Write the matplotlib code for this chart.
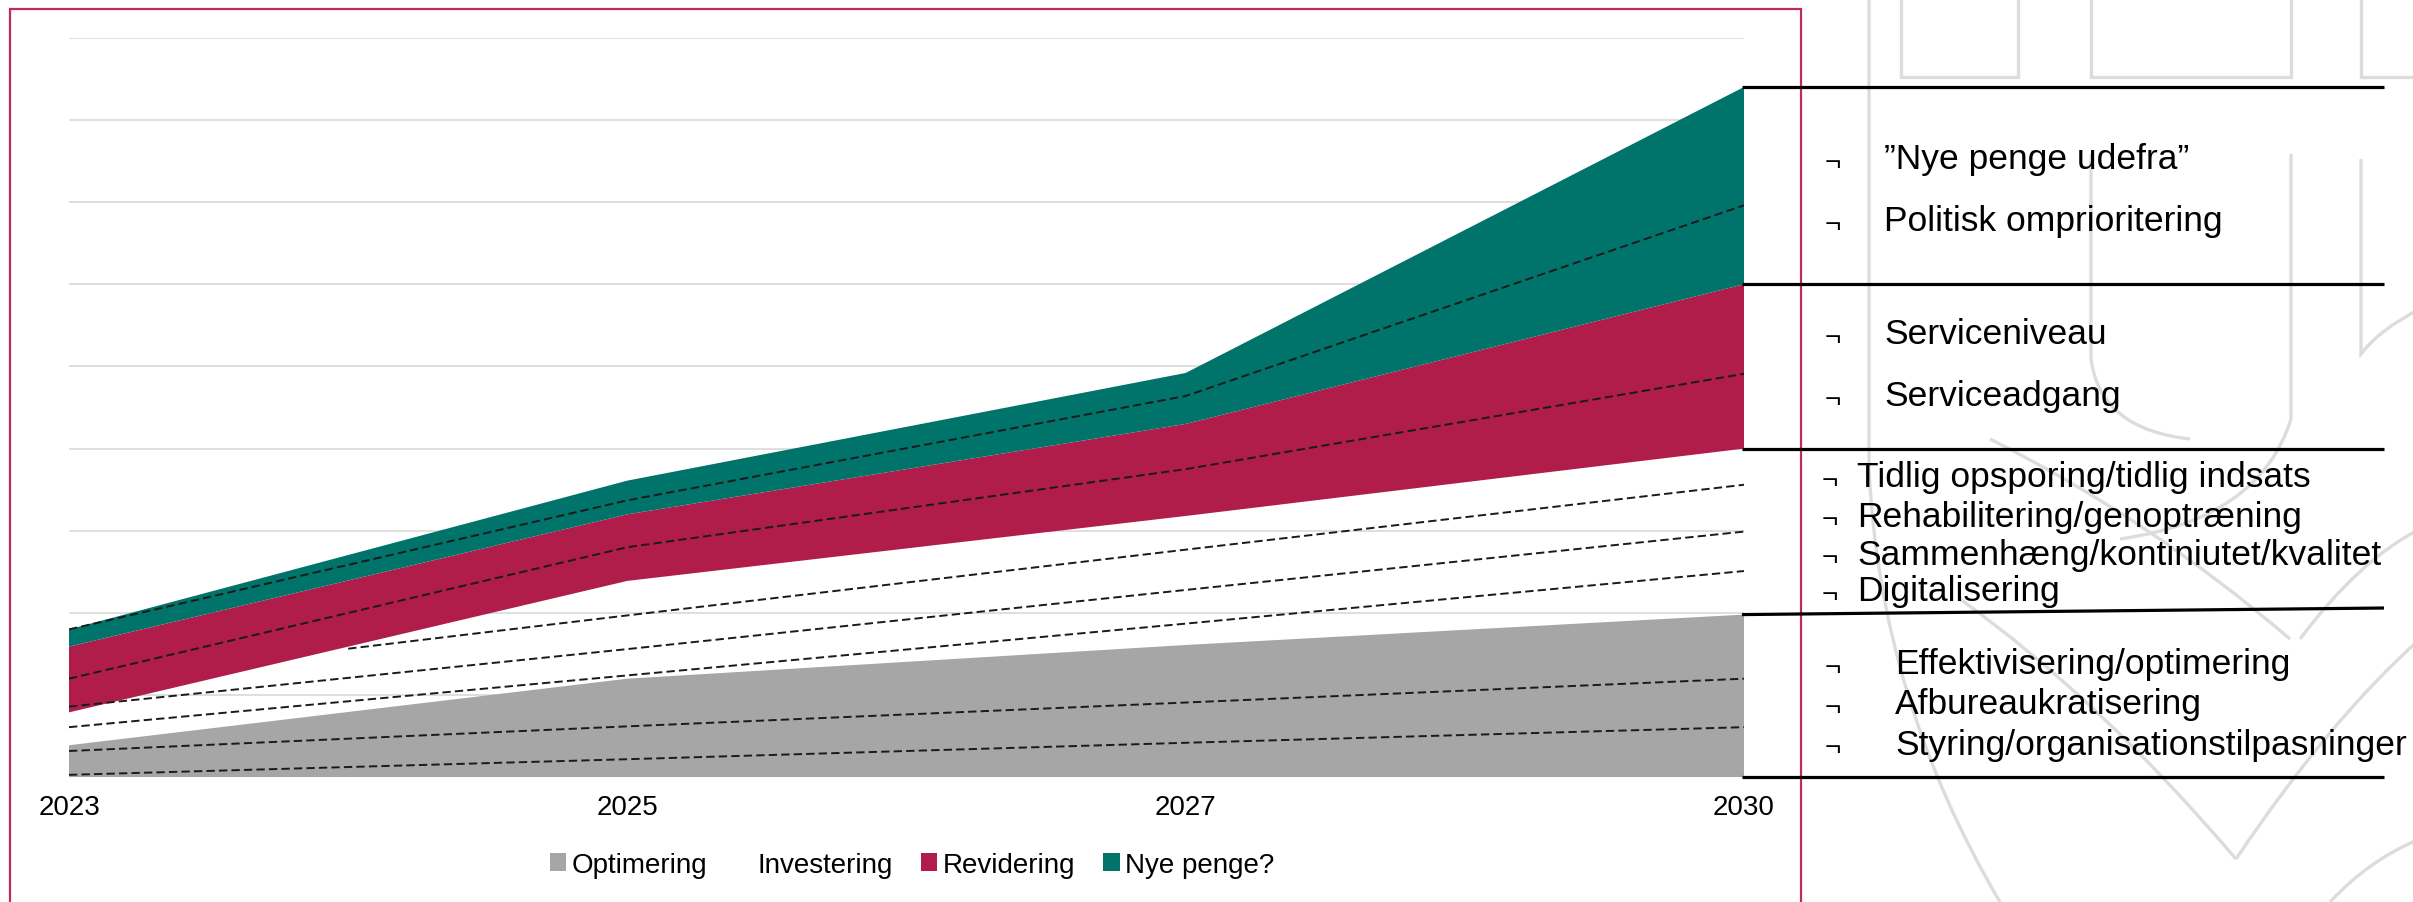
import numpy as np
import matplotlib
matplotlib.use("Agg")
import matplotlib.pyplot as plt
from matplotlib.patches import Rectangle, PathPatch
from matplotlib.path import Path
from matplotlib.lines import Line2D
import matplotlib.transforms as mtransforms

plt.rcParams['font.family'] = ['Liberation Sans', 'DejaVu Sans']
plt.rcParams['lines.scale_dashes'] = False

# ---------------- data ----------------
categories = ['2023', '2025', '2027', '2030']
optimering = [0.39, 1.20, 1.61, 1.98]
investering = [0.40, 1.19, 1.57, 2.02]
revidering = [0.80, 0.81, 1.12, 2.00]
nye_penge = [0.21, 0.41, 0.62, 2.40]
series_names = ['Optimering', 'Investering', 'Revidering', 'Nye penge?']

trend_1 = [1.80, 3.37, 4.64, 6.96]
trend_2 = [1.20, 2.80, 3.75, 4.91]
trend_3 = [1.16, 1.97, 2.77, 3.56]
trend_4 = [0.86, 1.56, 2.28, 2.99]
trend_5 = [0.61, 1.24, 1.87, 2.51]
trend_6 = [0.32, 0.62, 0.91, 1.20]
trend_7 = [0.03, 0.22, 0.42, 0.61]

group_nye = ['\u201dNye penge udefra\u201d', 'Politisk omprioritering']
group_rev = ['Serviceniveau', 'Serviceadgang']
group_inv = ['Tidlig opsporing/tidlig indsats', 'Rehabilitering/genoptr\u00e6ning',
             'Sammenh\u00e6ng/kontiniutet/kvalitet', 'Digitalisering']
group_opt = ['Effektivisering/optimering', 'Afbureaukratisering',
             'Styring/organisationstilpasninger']

# ---------------- style ----------------
GREY = '#A6A6A6'
CRIMSON = '#B01D4A'
TEAL = '#00736A'
FRAME = '#C02A55'
GRID = '#D9D9D9'
WM = '#DCDCDC'

W, H = 2413, 903
fig = plt.figure(figsize=(W / 100, H / 100), dpi=100)
fig.patch.set_facecolor('white')


def fx(x):
    return x / W


def fy(y):
    return 1 - y / H


# ---------------- background watermark ----------------
bg = fig.add_axes([0, 0, 1, 1], zorder=0)
bg.set_xlim(0, W)
bg.set_ylim(H, 0)
bg.axis('off')


def wm_path(verts, codes=None):
    p = Path(verts, codes)
    bg.add_patch(PathPatch(p, facecolor='none', edgecolor=WM, lw=2.4))


L, C = Path.LINETO, Path.CURVE3
M = Path.MOVETO
wm_path([(1901, 0), (1901, 78), (2018, 78), (2018, 0)], [M, L, L, L])
wm_path([(2091, 0), (2091, 78), (2291, 78), (2291, 0)], [M, L, L, L])
wm_path([(2361, 0), (2361, 78), (2420, 78)], [M, L, L])
wm_path([(1869, 0), (1869, 470), (1880, 700), (2000, 903)], [M, L, C, C])
wm_path([(2091, 155), (2091, 360), (2100, 430), (2190, 440)], [M, L, C, C])
wm_path([(2291, 155), (2291, 420), (2260, 520), (2120, 540)], [M, L, C, C])
wm_path([(2361, 160), (2361, 355), (2380, 330), (2420, 310)], [M, L, C, C])
wm_path([(1960, 600), (2100, 700), (2236, 860)], [M, C, C])
wm_path([(2236, 860), (2330, 720), (2420, 640)], [M, C, C])
wm_path([(1990, 440), (2150, 520), (2290, 640)], [M, C, C])
wm_path([(2300, 640), (2360, 560), (2420, 530)], [M, C, C])
wm_path([(2330, 903), (2370, 860), (2420, 840)], [M, C, C])

# white card with crimson frame
card = Rectangle((fx(10), fy(960)), fx(1801) - fx(10), fy(10) - fy(960),
                 transform=fig.transFigure, facecolor='white', edgecolor=FRAME,
                 lw=1.6, zorder=1)
fig.patches.append(card)

# ---------------- main axes ----------------
ax_left, ax_right = 69, 1744
ax_top, ax_bottom = 38.7, 778.3
ax = fig.add_axes([fx(ax_left), fy(ax_bottom), fx(ax_right) - fx(ax_left),
                   fy(ax_top) - fy(ax_bottom)], zorder=2)
ax.patch.set_alpha(0)
x = np.arange(len(categories))

polys = ax.stackplot(x, optimering, investering, revidering, nye_penge,
                     colors=[GREY, 'none', CRIMSON, TEAL], labels=series_names,
                     linewidth=0, zorder=2)

dash_style = dict(color='#1a1a1a', lw=1.4, zorder=3)
for tr in [trend_1, trend_2, trend_4, trend_5, trend_6, trend_7]:
    ln, = ax.plot(x, tr, **dash_style)
    ln.set_dashes((6, 3))
trend_3_start = 0.5
x3 = np.concatenate([[trend_3_start], x[x > trend_3_start]])
y3 = np.concatenate([[np.interp(trend_3_start, x, trend_3)],
                     np.array(trend_3)[x > trend_3_start]])
ln, = ax.plot(x3, y3, **dash_style)
ln.set_dashes((6, 3))

ax.set_xlim(0, 3)
ax.set_ylim(0, 9)
ax.set_yticks(np.arange(0, 10))
ax.yaxis.grid(True, color=GRID, lw=1.2, zorder=0)
ax.set_axisbelow(True)
ax.set_yticklabels([])
ax.set_xticks(x)
ax.set_xticklabels(categories, fontsize=20)
ax.tick_params(axis='both', length=0)
ax.tick_params(axis='x', pad=12)
for s in ax.spines.values():
    s.set_visible(False)

# legend
leg = fig.legend(handles=polys, labels=series_names, loc='center',
                 bbox_to_anchor=(fx(912), fy(866)), ncol=4, frameon=False,
                 fontsize=20, handlelength=0.6, handleheight=0.6,
                 handletextpad=0.2, columnspacing=1.0, borderpad=0)
leg.set_zorder(3)

# ---------------- right panel ----------------
cum = np.cumsum([optimering, investering, revidering, nye_penge], axis=0)
levels = [cum[3][-1], cum[2][-1], cum[1][-1], cum[0][-1], 0.0]
tilts = [0.0, 0.0, 0.0, 0.08, 0.0]
trans = mtransforms.blended_transform_factory(fig.transFigure, ax.transData)
for lvl, tilt in zip(levels, tilts):
    fig.add_artist(Line2D([fx(1742), fx(2384)], [lvl, lvl + tilt], color='black',
                          lw=2.3, transform=trans, clip_on=False, zorder=4,
                          solid_capstyle='butt'))

TXT = 25.5
BUL = 20


def bullet_list(items, ys, bx, tx):
    for it, yy in zip(items, ys):
        fig.text(fx(bx), fy(yy + 3), '\u00ac', fontsize=BUL, ha='left', va='center', zorder=5)
        fig.text(fx(tx), fy(yy), it, fontsize=TXT, ha='left', va='center', zorder=5)


bullet_list(group_nye, [160, 222], 1825, 1884)
bullet_list(group_rev, [335, 397], 1825, 1884)
bullet_list(group_inv, [478, 517, 555, 592], 1822, 1857)
bullet_list(group_opt, [665, 705, 745], 1825, 1895)

fig.savefig('out.png', dpi=100, facecolor='white')
